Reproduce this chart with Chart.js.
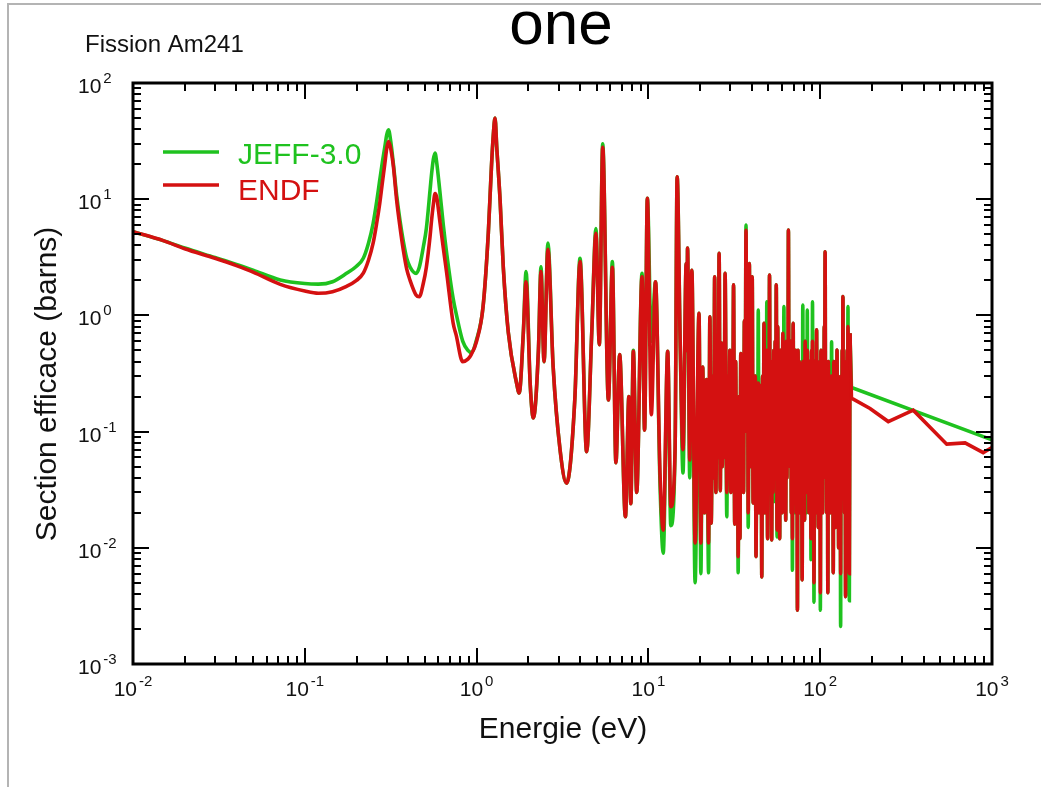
<!DOCTYPE html>
<html lang="fr">
<head>
<meta charset="utf-8">
<title>Fission Am241</title>
<script src="https://cdn.jsdelivr.net/npm/chart.js@4.4.1/dist/chart.umd.min.js"></script>
<style>
  html, body { margin: 0; padding: 0; background: #fff; }
  #graphe { display: block; }
</style>
</head>
<body>
<canvas id="graphe" width="1041" height="787"></canvas>
<script>
// === DONNEES ===
// energie en eV, section efficace en barns (grille commune jusqu'a 149 eV)
const energie = [
  0.01, 0.015, 0.02, 0.03, 0.04, 0.05, 0.072, 0.1, 0.12, 0.145,
  0.175, 0.2, 0.219, 0.235, 0.25, 0.262, 0.273, 0.283, 0.292, 0.3,
  0.307, 0.315, 0.328, 0.342, 0.358, 0.375, 0.392, 0.41, 0.444, 0.464,
  0.49, 0.51, 0.536, 0.547, 0.56, 0.573, 0.585, 0.61, 0.64, 0.67,
  0.73, 0.76, 0.83, 0.89, 0.93, 1.0, 1.09, 1.17, 1.22, 1.25,
  1.28, 1.31, 1.37, 1.43, 1.53, 1.71, 1.77, 1.87, 1.94, 2.05,
  2.14, 2.29, 2.37, 2.47, 2.6, 2.79, 3.06, 3.34, 3.73, 4.0,
  4.37, 4.68, 4.95, 5.18, 5.42, 5.85, 6.17, 6.47, 6.8, 7.35,
  7.7, 7.9, 8.17, 8.55, 9.18, 9.5, 9.86, 10.4, 11.0, 11.68,
  12.2, 12.95, 13.5, 14.3, 14.7, 15.3, 15.9, 16.6, 16.75, 16.9,
  17.4, 17.9, 18.7,
  19.7, 20.2, 20.7, 21.2, 21.8, 22.4, 22.8, 23.2, 23.7, 24.0,
  24.3, 24.7, 25.1, 25.45, 25.8, 26.2, 26.55, 26.9, 27.3, 27.6,
  27.95, 28.6, 29.0, 29.4, 29.8, 30.2, 30.6, 30.9, 31.3, 31.8,
  32.2, 32.6, 32.95, 33.3, 33.7, 34.1, 34.5, 34.9, 35.35, 35.8,
  36.2, 36.6, 37.0, 37.4, 37.8, 38.1, 38.7, 39.1, 39.5, 39.85,
  40.2, 40.7, 41.1, 41.5, 41.9, 42.3, 42.8, 43.2, 43.6, 44.1,
  44.5, 44.9, 45.3, 45.7, 46.2, 46.6, 47.1, 47.6, 48.1, 48.5,
  48.9, 49.4, 49.9, 50.3, 50.7, 51.2, 51.7, 52.2, 52.7, 53.2,
  53.7, 54.2, 54.7, 55.1, 55.5, 56.1, 56.6, 57.1, 57.6, 58.1,
  58.6, 59.1, 59.6, 60.1, 60.6, 61.0, 61.5, 62.0, 62.5, 63.0,
  63.5, 64.0, 64.6, 64.9, 65.3, 65.9, 66.4, 66.9, 67.4, 67.9,
  68.4, 68.9, 69.6, 70.2, 70.8, 71.4, 72.0, 72.6, 73.1, 73.7,
  74.3, 74.9, 75.5, 76.1, 76.7, 77.3, 77.9, 78.5, 79.2, 79.9,
  80.5, 81.1, 81.7, 82.3, 82.9, 83.5, 84.1, 84.8, 85.4, 86.0,
  86.6, 87.2, 87.8, 88.4, 89.1, 89.6, 90.2, 90.8, 91.4, 92.0,
  92.7, 93.4, 94.0, 94.6, 95.3, 96.0, 96.7, 97.4, 98.1, 98.8,
  99.5, 100.2, 101.0, 101.7, 102.5, 103.3, 104.0, 104.8, 105.6, 106.2,
  106.8, 107.6, 108.4, 109.2, 110.0, 110.8, 111.6, 112.4, 113.2, 114.0,
  114.8, 115.6, 116.5, 117.4, 118.3, 119.1, 120.0, 120.9, 121.8, 122.7,
  123.6, 124.5, 125.3, 126.2, 127.1, 128.0, 128.9, 129.8, 130.7, 131.5,
  132.4, 133.4, 134.3, 135.0, 135.6, 136.6, 137.6, 138.6, 139.6, 140.5,
  141.5, 142.5, 143.5, 144.3, 145.1, 146.0, 146.9, 147.8, 149.0
];
const jeff = [
  5.25, 4.4, 3.8, 3.15, 2.75, 2.45, 2.02, 1.88, 1.86, 1.95,
  2.3, 2.65, 3.1, 4.2, 6.2, 9.5, 14.6, 21, 28, 36,
  39.5, 33, 20, 11, 6.6, 4.3, 3.1, 2.6, 2.3, 2.6,
  3.9, 5.6, 12, 16.5, 22, 25, 21, 12, 6, 3.4,
  1.4, 1.04, 0.6, 0.5, 0.48, 0.62, 1.18, 5.1, 19, 35,
  50, 28, 9.8, 2.6, 0.71, 0.26, 0.215, 0.7, 2.38, 0.26,
  0.131, 0.5, 2.62, 0.40, 4.2, 0.36, 0.07, 0.036, 0.19, 3.1,
  0.067, 0.71, 5.6, 0.56, 30, 0.187, 2.9, 0.054, 0.46, 0.0185,
  0.2, 0.024, 0.5, 0.03, 2.3, 0.103, 10.2, 0.6, 1.95, 0.036,
  0.009, 0.49, 0.0155, 0.07, 15.6, 0.62, 0.044, 2.8, 0.5, 3.8,
  0.04, 2.45, 0.005,
  1.04, 0.006, 0.36, 0.02, 0.28, 0.0061, 0.975, 0.0163, 0.3, 0.04,
  2.15, 0.03, 0.4, 0.06, 3.42, 0.031, 0.58, 0.05, 0.35, 0.06,
  2.3, 0.0185, 0.3, 0.04, 0.5, 0.03, 0.25, 0.05, 1.83, 0.016,
  0.4, 0.03, 0.15, 0.0061, 0.2, 0.012, 0.47, 0.05, 0.25, 0.03,
  0.9, 0.15, 6.0, 0.1, 0.5, 0.015, 2.8, 0.05, 0.4, 0.08,
  2.15, 0.0243, 0.25, 0.04, 0.3, 0.0084, 0.12, 0.03, 1.11, 0.02,
  0.25, 0.025, 0.2, 0.0056, 0.3, 0.03, 0.855, 0.02, 0.35, 0.05,
  1.31, 0.012, 0.3, 0.06, 2.23, 0.03, 0.4, 0.0117, 0.4, 0.03,
  0.5, 0.025, 0.6, 0.1, 1.83, 0.0124, 0.8, 0.03, 0.3, 0.012,
  0.5, 0.04, 0.35, 0.02, 0.7, 0.05, 1.19, 0.03, 0.4, 0.0173,
  0.6, 0.04, 0.5, 0.2, 5.43, 0.1, 0.4, 0.05, 0.6, 0.02,
  0.3, 0.0064, 0.855, 0.03, 0.4, 0.02, 0.5, 0.02, 0.25, 0.0029,
  0.5, 0.05, 0.4, 0.02, 0.3, 0.03, 0.2, 0.0053, 1.23, 0.03,
  0.3, 0.0173, 0.6, 0.05, 0.45, 0.02, 1.11, 0.04, 0.3, 0.02,
  0.4, 0.05, 0.3, 0.0079, 0.5, 0.04, 1.31, 0.02, 0.3, 0.0034,
  0.4, 0.03, 0.35, 0.02, 0.75, 0.03, 0.4, 0.015, 0.35, 0.04,
  0.3, 0.0029, 0.5, 0.03, 0.35, 0.02, 0.4, 0.05, 0.8, 0.3,
  3.53, 0.04, 0.4, 0.02, 0.3, 0.0041, 0.4, 0.03, 0.3, 0.02,
  0.25, 0.03, 0.594, 0.04, 0.2, 0.0061, 0.4, 0.03, 0.35, 0.015,
  0.3, 0.04, 0.504, 0.02, 0.3, 0.01, 0.25, 0.03, 0.2, 0.0021,
  0.3, 0.04, 0.5, 0.1, 1.45, 0.03, 0.4, 0.02, 0.3, 0.0038,
  0.35, 0.04, 0.5, 0.03, 1.19, 0.02, 0.3, 0.0035, 0.7
];
const endf = [
  5.25, 4.4, 3.75, 3.1, 2.68, 2.36, 1.85, 1.62, 1.55, 1.6,
  1.78, 2.0, 2.31, 3.0, 4.2, 6.2, 9.2, 14, 20, 27.5,
  31.3, 28, 19, 10, 5.8, 3.6, 2.5, 2.0, 1.5, 1.45,
  1.9, 2.6, 4.8, 6.6, 9, 11.2, 10.5, 6.6, 3.8, 2.3,
  0.86, 0.68, 0.40, 0.42, 0.46, 0.6, 1.18, 5.1, 19, 35,
  50, 28, 9.8, 2.6, 0.71, 0.26, 0.215, 0.7, 1.95, 0.26,
  0.131, 0.5, 2.38, 0.40, 3.7, 0.36, 0.07, 0.036, 0.19, 2.9,
  0.067, 0.71, 5.1, 0.56, 28, 0.187, 2.6, 0.054, 0.46, 0.0185,
  0.2, 0.024, 0.49, 0.03, 2.15, 0.103, 10.2, 0.14, 1.95, 0.044,
  0.0142, 0.49, 0.0226, 0.07, 15.6, 0.62, 0.07, 2.8, 0.5, 3.8,
  0.057, 2.45, 0.011,
  1.04, 0.011, 0.36, 0.02, 0.28, 0.011, 0.975, 0.0163, 0.3, 0.04,
  2.15, 0.03, 0.4, 0.06, 3.42, 0.031, 0.58, 0.05, 0.35, 0.06,
  2.3, 0.03, 0.3, 0.04, 0.5, 0.03, 0.25, 0.05, 1.83, 0.016,
  0.4, 0.03, 0.15, 0.0084, 0.2, 0.012, 0.47, 0.05, 0.25, 0.03,
  0.9, 0.15, 5.4, 0.1, 0.5, 0.02, 2.8, 0.05, 0.4, 0.08,
  2.15, 0.0243, 0.25, 0.04, 0.3, 0.0084, 0.12, 0.03, 0.262, 0.02,
  0.25, 0.04, 0.2, 0.0056, 0.3, 0.03, 0.855, 0.02, 0.35, 0.05,
  0.5, 0.012, 0.3, 0.06, 2.23, 0.05, 0.4, 0.0117, 0.4, 0.03,
  0.5, 0.04, 0.6, 0.1, 1.83, 0.0142, 0.8, 0.03, 0.3, 0.012,
  0.5, 0.04, 0.35, 0.02, 0.7, 0.05, 0.5, 0.03, 0.4, 0.0173,
  0.6, 0.04, 0.5, 0.2, 5.43, 0.1, 0.4, 0.05, 0.6, 0.02,
  0.3, 0.012, 0.855, 0.03, 0.4, 0.04, 0.5, 0.02, 0.25, 0.0029,
  0.5, 0.05, 0.4, 0.02, 0.3, 0.03, 0.2, 0.0053, 0.4, 0.03,
  0.3, 0.0173, 0.6, 0.05, 0.45, 0.03, 0.5, 0.04, 0.3, 0.02,
  0.4, 0.05, 0.3, 0.012, 0.5, 0.04, 0.6, 0.02, 0.3, 0.005,
  0.4, 0.03, 0.35, 0.02, 0.75, 0.03, 0.4, 0.015, 0.35, 0.04,
  0.3, 0.0041, 0.5, 0.03, 0.35, 0.02, 0.4, 0.05, 0.8, 0.3,
  3.53, 0.04, 0.4, 0.02, 0.3, 0.0041, 0.4, 0.03, 0.3, 0.02,
  0.25, 0.03, 0.3, 0.04, 0.2, 0.0061, 0.4, 0.03, 0.35, 0.015,
  0.3, 0.04, 0.504, 0.02, 0.3, 0.01, 0.25, 0.03, 0.2, 0.006,
  0.3, 0.04, 0.5, 0.1, 1.45, 0.03, 0.4, 0.02, 0.3, 0.0038,
  0.35, 0.04, 0.5, 0.03, 0.8, 0.02, 0.3, 0.006, 0.7
];
// au-dela de la zone des resonances
const jeffQueueE = [152, 1000];
const jeffQueue = [0.24, 0.085];
const endfQueueE = [152, 195, 249, 348, 545, 697, 889, 1000];
const endfQueue = [0.194, 0.158, 0.122, 0.153, 0.078, 0.080, 0.066, 0.073];

// decades des axes
const xDecades = [-2, -1, 0, 1, 2, 3];
const yDecades = [-3, -2, -1, 0, 1, 2];

const VERT = '#1fc21f';
const ROUGE = '#d41111';
const POLICE = '"Liberation Sans", Arial, Helvetica, sans-serif';
const EPAIS = 3.6;

function points(ex, vals) {
  return ex.map((e, i) => ({ x: e, y: vals[i] }));
}

// queue : part du dernier point de la zone des resonances
function queue(exQ, valsQ, vals) {
  const n = energie.length - 1;
  return [{ x: energie[n], y: vals[n] }].concat(points(exQ, valsQ));
}

// 10 + exposant
function puissance(ctx, exp, x, yBase, centre) {
  const base = '10', sup = String(exp);
  ctx.font = '21px ' + POLICE;
  const wb = ctx.measureText(base).width;
  ctx.font = '15px ' + POLICE;
  const ws = ctx.measureText(sup).width;
  const x0 = centre ? x - (wb + ws + 2) / 2 : x;
  ctx.textAlign = 'left';
  ctx.font = '21px ' + POLICE;
  ctx.fillText(base, x0, yBase);
  ctx.font = '15px ' + POLICE;
  ctx.fillText(sup, x0 + wb + 2, yBase - 10);
}

// === CADRE, GRADUATIONS, TEXTES ===
const cadre = {
  id: 'cadre',
  beforeDraw(chart) {
    const ctx = chart.ctx;
    ctx.save();
    ctx.fillStyle = '#fff';
    ctx.fillRect(0, 0, chart.width, chart.height);
    ctx.restore();
  },
  afterDraw(chart) {
    const { ctx, chartArea: a, scales: { x, y } } = chart;
    ctx.save();

    // bord gris de la page
    ctx.strokeStyle = '#b4b4b4';
    ctx.lineWidth = 2;
    ctx.beginPath();
    ctx.moveTo(8, chart.height);
    ctx.lineTo(8, 4);
    ctx.lineTo(chart.width, 4);
    ctx.stroke();

    // graduations vers l'interieur
    ctx.strokeStyle = '#000';
    ctx.lineWidth = 2;
    ctx.beginPath();
    xDecades.forEach((d, i) => {
      for (let k = 1; k <= 9; k++) {
        if (k > 1 && i === xDecades.length - 1) break;
        const px = Math.round(x.getPixelForValue(k * Math.pow(10, d)));
        const len = k === 1 ? 16 : 8;
        ctx.moveTo(px, a.bottom); ctx.lineTo(px, a.bottom - len);
        ctx.moveTo(px, a.top); ctx.lineTo(px, a.top + len);
      }
    });
    yDecades.forEach((d, i) => {
      for (let k = 1; k <= 9; k++) {
        if (k > 1 && i === yDecades.length - 1) break;
        const py = Math.round(y.getPixelForValue(k * Math.pow(10, d)));
        const len = k === 1 ? 16 : 8;
        ctx.moveTo(a.left, py); ctx.lineTo(a.left + len, py);
        ctx.moveTo(a.right, py); ctx.lineTo(a.right - len, py);
      }
    });
    ctx.stroke();

    ctx.lineWidth = 3;
    ctx.strokeRect(a.left, a.top, a.right - a.left, a.bottom - a.top);

    // etiquettes
    ctx.fillStyle = '#111';
    ctx.textBaseline = 'alphabetic';
    xDecades.forEach(d => {
      puissance(ctx, d, x.getPixelForValue(Math.pow(10, d)), a.bottom + 32, true);
    });
    yDecades.forEach(d => {
      puissance(ctx, d, 78, y.getPixelForValue(Math.pow(10, d)) + 10, false);
    });

    // titres
    ctx.font = '30px ' + POLICE;
    ctx.textAlign = 'center';
    ctx.fillText('Energie (eV)', 563, 738);
    ctx.save();
    ctx.translate(56, 384);
    ctx.rotate(-Math.PI / 2);
    ctx.fillText('Section efficace (barns)', 0, 0);
    ctx.restore();

    ctx.font = '24px ' + POLICE;
    ctx.textAlign = 'left';
    ctx.fillText('Fission Am241', 85, 52);

    ctx.font = '62px ' + POLICE;
    ctx.textAlign = 'center';
    ctx.fillStyle = '#000';
    ctx.fillText('one', 561, 44);

    // legende
    ctx.lineWidth = EPAIS;
    ctx.strokeStyle = VERT;
    ctx.beginPath(); ctx.moveTo(163, 152); ctx.lineTo(219, 152); ctx.stroke();
    ctx.strokeStyle = ROUGE;
    ctx.beginPath(); ctx.moveTo(163, 185); ctx.lineTo(219, 185); ctx.stroke();
    ctx.font = '30px ' + POLICE;
    ctx.textAlign = 'left';
    ctx.fillStyle = VERT;
    ctx.fillText('JEFF-3.0', 238, 164);
    ctx.fillStyle = ROUGE;
    ctx.fillText('ENDF', 238, 200);

    ctx.restore();
  }
};

// === GRAPHIQUE ===
const ctx = document.getElementById('graphe').getContext('2d');
const graphe = new Chart(ctx, {
  type: 'line',
  data: {
    datasets: [{
      label: 'JEFF-3.0',
      data: points(energie, jeff),
      borderColor: VERT,
      borderWidth: EPAIS,
      pointRadius: 0,
      cubicInterpolationMode: 'monotone',
      order: 3
    }, {
      label: 'JEFF-3.0 (queue)',
      data: queue(jeffQueueE, jeffQueue, jeff),
      borderColor: VERT,
      borderWidth: EPAIS,
      pointRadius: 0,
      tension: 0,
      order: 2
    }, {
      label: 'ENDF',
      data: points(energie, endf),
      borderColor: ROUGE,
      borderWidth: EPAIS,
      pointRadius: 0,
      cubicInterpolationMode: 'monotone',
      order: 1
    }, {
      label: 'ENDF (queue)',
      data: queue(endfQueueE, endfQueue, endf),
      borderColor: ROUGE,
      borderWidth: EPAIS,
      pointRadius: 0,
      tension: 0,
      order: 0
    }]
  },
  options: {
    responsive: false,
    animation: false,
    devicePixelRatio: 1,
    events: [],
    layout: { padding: { left: 133, top: 83, right: 49, bottom: 123 } },
    scales: {
      x: { type: 'logarithmic', min: 0.01, max: 1000, display: false },
      y: { type: 'logarithmic', min: 0.001, max: 100, display: false }
    },
    plugins: { legend: { display: false }, tooltip: { enabled: false } }
  },
  plugins: [cadre]
});
</script>
</body>
</html>
